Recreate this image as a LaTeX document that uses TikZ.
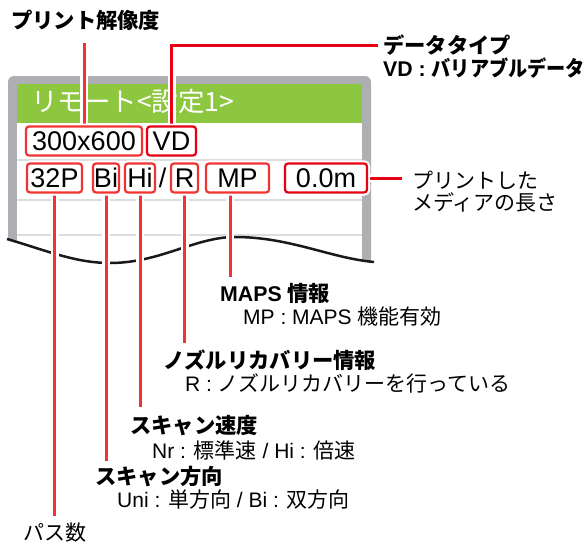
\documentclass[tikz,border=0pt]{standalone}
\usepackage{fontspec}
\usepackage{graphicx}
\newfontfamily\jp{Noto Sans CJK JP}
\newfontfamily\lat{Liberation Sans}
\definecolor{redA}{RGB}{240,52,52}
\definecolor{redB}{RGB}{230,0,18}
\definecolor{panelgray}{RGB}{174,175,179}
\definecolor{hdrgreen}{RGB}{141,198,63}
\definecolor{sepgray}{RGB}{221,221,221}
\begin{document}
\begin{tikzpicture}[x=1pt,y=-1pt,
  rbox/.style={draw=redA, line width=2.2pt, rounded corners=3pt, fill=white, inner sep=0pt,
    minimum height=29pt, text height=19.5pt, text depth=0pt,
    font=\lat\fontsize{27}{27}\selectfont,
    preaction={draw=white, line width=6pt}},
  rboxB/.style={rbox, draw=redB},
  rline/.style={draw=redA, line width=3pt, preaction={draw=white, line width=8pt}},
  rlineB/.style={rline, draw=redB},
  hdr/.style={anchor=west, inner sep=0pt, font=\jp\bfseries\fontsize{21.3}{24}\selectfont},
  txt/.style={anchor=west, inner sep=0pt, font=\jp\fontsize{21}{24}\selectfont},
  lbl/.style={anchor=west, inner sep=0pt, font=\jp\fontsize{21}{24}\selectfont}]
\useasboundingbox (0,0) rectangle (586,544);
% panel
\fill[panelgray, rounded corners=6pt] (8,76) rectangle (371,300);
\fill[white] (17,84) rectangle (362,300);
\fill[hdrgreen] (17,84) rectangle (362,123);
\node[anchor=west, inner sep=0pt, text=white, font=\jp\fontsize{26.5}{28}\selectfont] (title) at (31,101) {リモート<設定1>};
\draw[sepgray, line width=1.5pt] (17,160) -- (362,160);
\draw[sepgray, line width=1.5pt] (17,200) -- (362,200);
\draw[sepgray, line width=1.5pt] (17,235) -- (362,235);
% cut-away wave
\fill[white] (7,239) .. controls (45,250) and (75,263) .. (110,263)
  .. controls (160,263) and (195,237) .. (235,237)
  .. controls (290,237) and (330,258) .. (374,262) -- (380,310) -- (0,310) -- cycle;
\draw[black!90, line width=2.5pt] (7,239) .. controls (45,250) and (75,263) .. (110,263)
  .. controls (160,263) and (195,237) .. (235,237)
  .. controls (290,237) and (330,258) .. (374,262);
% end points of connectors
\coordinate (resEnd) at (84,43);
\coordinate (vdEnd) at (378,45);
\coordinate (lenEnd) at (402,178);
\coordinate (passEnd) at (54.5,516);
\coordinate (dirEnd) at (106,461);
\coordinate (spdEnd) at (140,407);
\coordinate (recEnd) at (184.5,343);
\coordinate (mapsEnd) at (230,277);
% boxes
\path (84,141) node[rbox, minimum width=116pt] (res) {300x600};
\path (171.5,141) node[rboxB, minimum width=49pt] (vd) {VD};
\path (54.5,178) node[rbox, minimum width=55pt] (pass) {32P};
\path (106,178) node[rbox, minimum width=26pt] (dir) {Bi};
\path (140,178) node[rbox, minimum width=30pt] (spd) {Hi};
\path (162.5,178) node[inner sep=0pt, text height=19.5pt, text depth=0pt, font=\lat\fontsize{27}{27}\selectfont] (slash) {/};
\path (184.5,178) node[rbox, minimum width=27pt] (rec) {R};
\path (237.5,178) node[rbox, minimum width=63pt] (maps) {MP};
\path (326,178) node[rboxB, minimum width=82pt] (len) {0.0m};
% connectors
\draw[rline] (res.north) -- (resEnd);
\draw[rlineB] (vd.north) |- (vdEnd);
\draw[rlineB] (len.east) -- (lenEnd);
\draw[rline] (pass.south) -- (passEnd);
\draw[rline] (dir.south) -- (dirEnd);
\draw[rline] (spd.south) -- (spdEnd);
\draw[rline] (rec.south) -- (recEnd);
\draw[rline] (mapsEnd |- maps.south) -- (mapsEnd);
% redraw boxes on top of the connector halos
\path (84,141) node[rbox, minimum width=116pt] {300x600};
\path (171.5,141) node[rboxB, minimum width=49pt] {VD};
\path (54.5,178) node[rbox, minimum width=55pt] {32P};
\path (106,178) node[rbox, minimum width=26pt] {Bi};
\path (140,178) node[rbox, minimum width=30pt] {Hi};
\path (184.5,178) node[rbox, minimum width=27pt] {R};
\path (237.5,178) node[rbox, minimum width=63pt] {MP};
\path (326,178) node[rboxB, minimum width=82pt] {0.0m};
% labels
\node[hdr] (tres) at (11,20) {プリント解像度};
\node[hdr] (tvd1) at (383,45) {データタイプ};
\node[hdr] (tvd2) at (383,68) {{\lat\bfseries VD : }\scalebox{0.9}[1]{バリアブルデータ}};
\node[lbl] (tlen1) at (412,180) {プリントした};
\node[lbl] (tlen2) at (412,202) {メディアの長さ};
\node[hdr] (tmp1) at (220,293) {{\lat\bfseries MAPS }情報};
\node[txt] (tmp2) at (243,317) {{\lat MP : MAPS }機能有効};
\node[hdr] (trec1) at (163,360) {ノズルリカバリー情報};
\node[txt] (trec2) at (185,383) {{\lat R : }ノズルリカバリーを行っている};
\node[hdr] (tspd1) at (130,426) {スキャン速度};
\node[txt] (tspd2) at (152,450) {{\lat Nr : }標準速{\lat\ / Hi : }倍速};
\node[hdr] (tdir1) at (95,477) {スキャン方向};
\node[txt] (tdir2) at (117,500) {{\lat Uni : }単方向{\lat\ / Bi : }双方向};
\node[lbl] (tpass) at (23,533) {パス数};
\end{tikzpicture}
\end{document}
